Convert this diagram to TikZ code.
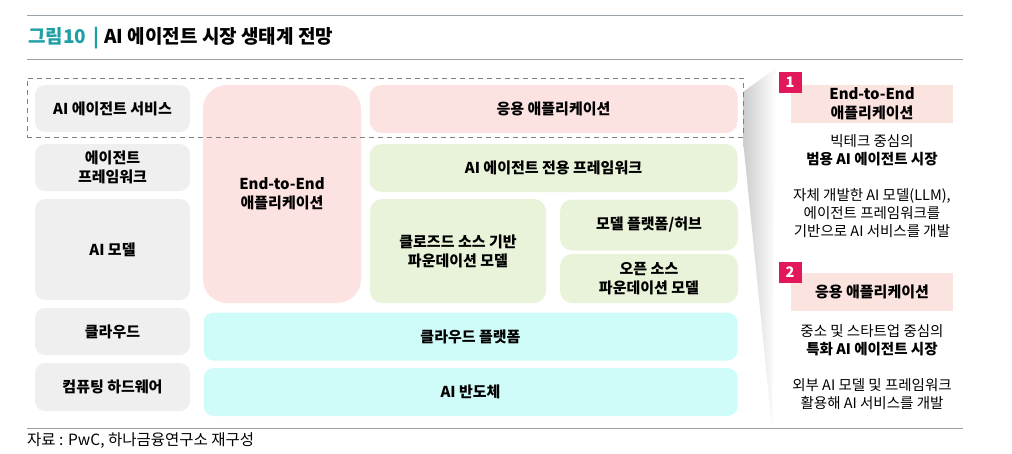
\documentclass[tikz,border=0pt]{standalone}
\usepackage{fontspec}
\setmainfont{Noto Sans CJK KR}
\definecolor{agtlabel}{HTML}{EFEFEF}
\definecolor{agtpink}{HTML}{FCE3E1}
\definecolor{agtgreen}{HTML}{E8F3DA}
\definecolor{agtcyan}{HTML}{CFFCF9}
\definecolor{agthead}{HTML}{FBE3E0}
\definecolor{agtbadge}{HTML}{E2185B}
\definecolor{agtteal}{HTML}{1E9FA5}
\definecolor{agtrule}{HTML}{9AA3AA}
\definecolor{agtdash}{HTML}{808080}
\newcommand{\agtboxfont}{\fontsize{15}{19}\selectfont\bfseries}
\newcommand{\agttxtfont}{\fontsize{14.5}{18}\selectfont}
\tikzset{
  layerlabel/.style={fill=agtlabel,rounded corners=10pt,inner sep=0pt,
    align=center,font=\agtboxfont},
  appbox/.style={fill=agtpink,rounded corners=12pt,inner sep=0pt,
    align=center,font=\agtboxfont},
  fwbox/.style={fill=agtgreen,rounded corners=12pt,inner sep=0pt,
    align=center,font=\agtboxfont},
  infrabox/.style={fill=agtcyan,rounded corners=10pt,inner sep=0pt,
    align=center,font=\agtboxfont},
  svcframe/.style={draw=agtdash,line width=0.9pt,dash pattern=on 5pt off 4pt,
    inner sep=0pt},
  headbox/.style={fill=agthead,inner sep=0pt,minimum width=162pt,
    align=center,font=\agtboxfont},
  badgebox/.style={fill=agtbadge,text=white,inner sep=0pt,minimum width=23pt,
    minimum height=21pt,font=\fontsize{14.5}{14.5}\selectfont\bfseries},
  desctext/.style={inner sep=0pt,align=center,font=\agttxtfont},
  hrule/.style={draw=agtrule,line width=1pt},
}
\begin{document}
\begin{tikzpicture}[x=1pt,y=-1pt]
  \useasboundingbox (0,0) rectangle (1012,453);
  % title and rules
  \draw[hrule] (27,15.5) -- (963,15.5);
  \draw[hrule] (27,59) -- (963,59);
  \node[anchor=west,inner sep=0pt,font=\fontsize{19}{22}\selectfont\bfseries] (title) at (28,38)
    {{\color{agtteal}그림10\hspace{7pt}|\hspace{5pt}}AI 에이전트 시장 생태계 전망};
  % shadow toward the side panel
  \shade[left color=black!20,right color=white]
    (743,92) -- (776,68) -- (772,428) -- (743,140) -- cycle;
  % layer names
  \foreach \n/\y/\h/\t in {svc/108.5/47/{AI 에이전트 서비스},fw/167.5/47/{에이전트\\프레임워크},
      model/249.5/101/{AI 모델},cloud/331.5/47/{클라우드},hw/387/48/{컴퓨팅 하드웨어}}
    {\node[layerlabel,minimum width=155pt,minimum height=\h pt] (lbl\n) at (112.5,\y) {\t};}
  % stack
  \node[appbox,rounded corners=24pt,minimum width=158pt,minimum height=218pt] (e2e) at (282,194) {End-to-End\\애플리케이션};
  \node[appbox,minimum width=368pt,minimum height=48pt] (apps) at (553.5,109) {응용 애플리케이션};
  \node[fwbox,minimum width=368pt,minimum height=48pt] (agentfw) at (553.5,168) {AI 에이전트 전용 프레임워크};
  \node[fwbox,minimum width=176pt,minimum height=104pt] (closed) at (458,251) {클로즈드 소스 기반\\파운데이션 모델};
  \node[fwbox,minimum width=178pt,minimum height=51pt] (hub) at (649,225) {모델 플랫폼/허브};
  \node[fwbox,minimum width=178pt,minimum height=49pt] (open) at (649,278.5) {오픈 소스\\파운데이션 모델};
  \node[infrabox,minimum width=534pt,minimum height=48pt] (cloudpf) at (470.5,336.5) {클라우드 플랫폼};
  \node[infrabox,minimum width=534pt,minimum height=48pt] (chip) at (470.5,392) {AI 반도체};
  % service layer frame
  \node[svcframe,minimum width=716pt,minimum height=59pt] (svcbox) at (385,107.5) {};
  % side panel
  \node[headbox,minimum height=38pt] (head1) at (872,104) {End-to-End\\애플리케이션};
  \node[badgebox] (badge1) at (790,82) {1};
  \node[desctext] (desc1a) at (872,150) {빅테크 중심의\\\textbf{범용 AI 에이전트 시장}};
  \node[desctext] (desc1b) at (872,213.5) {자체 개발한 AI 모델(LLM),\\에이전트 프레임워크를\\기반으로 AI 서비스를 개발};
  \node[headbox,minimum height=38pt] (head2) at (872,292) {응용 애플리케이션};
  \node[badgebox] (badge2) at (790,272.5) {2};
  \node[desctext] (desc2a) at (872,340) {중소 및 스타트업 중심의\\\textbf{특화 AI 에이전트 시장}};
  \node[desctext] (desc2b) at (872,394) {외부 AI 모델 및 프레임워크\\활용해 AI 서비스를 개발};
  % source
  \draw[hrule] (27,428) -- (963,428);
  \node[anchor=west,inner sep=0pt,font=\fontsize{15.5}{17}\selectfont] (source) at (27,441)
    {자료 : PwC, 하나금융연구소 재구성};
\end{tikzpicture}
\end{document}
